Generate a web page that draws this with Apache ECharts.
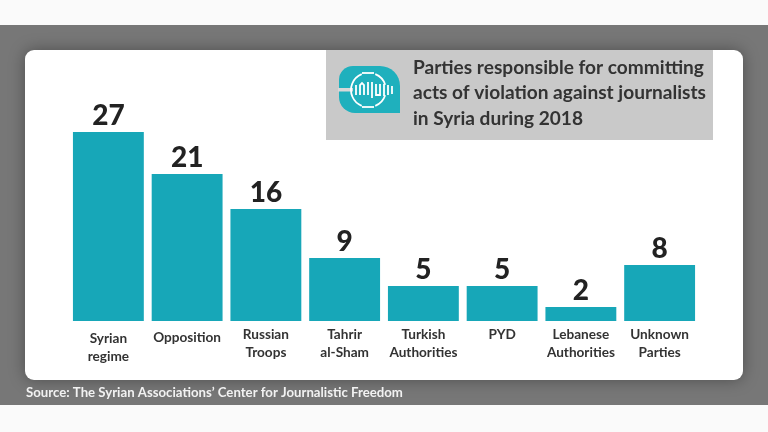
<!DOCTYPE html>
<html>
<head>
<meta charset="utf-8">
<style>html,body{margin:0;padding:0;background:#fafafa}#c{width:768px;height:432px}</style>
<script src="https://cdn.jsdelivr.net/npm/echarts@6/dist/echarts.min.js"></script>
</head>
<body>
<div id="c"></div>
<script>
const categories = ['Syrian\nregime','Opposition','Russian\nTroops','Tahrir\nal-Sham','Turkish\nAuthorities','PYD','Lebanese\nAuthorities','Unknown\nParties'];
const violations = [27,21,16,9,5,5,2,8];
// Extra space above each category label, in pixels
const labelNudge = [4,3,0,0,0,0,0,0];
const titleLines = ['Parties responsible for committing','acts of violation against journalists','in Syria during 2018'];
const sourceText = 'Source: The Syrian Associations\u2019 Center for Journalistic Freedom';

const FONT = 'Lato, "Open Sans", sans-serif';
const TEAL = '#17a7b8';
const chart = echarts.init(document.getElementById('c'), null, {renderer:'canvas'});

// Small emblem: teal badge with a slit on the left and a white headset-and-script mark
const WHITE_STROKE = {stroke:'#fff',lineWidth:1.8,fill:null};
const strokes = [
  [[356,95],[356,85]],
  [[360,95],[360,85],[362,83],[364,85],[364,95]],
  [[368,82],[368,95]],
  [[372,82],[372,98]],
  [[376,84],[376,95],[380,95],[380,84]],
  [[384,84],[384,96]],
  [[388,85],[388,95]],
  [[392,86],[392,94]],
  [[362,73],[374,73]],
  [[362,107],[374,107]]
];
const emblem = [
  {type:'rect', z:3, shape:{x:339,y:66,width:61,height:47,r:[14,20,0,16]}, style:{fill:'#1fb0bd'}},
  {type:'rect', z:3, shape:{x:338,y:88,width:15,height:3.5}, style:{fill:'#d8d8d8'}},
  {type:'arc', z:4, shape:{cx:368,cy:90,r:17,startAngle:Math.PI*0.62,endAngle:Math.PI*1.38,clockwise:true}, style:{stroke:'#fff',lineWidth:1.8,fill:null}},
  {type:'arc', z:4, shape:{cx:369,cy:90,r:17,startAngle:-Math.PI*0.38,endAngle:-Math.PI*0.1,clockwise:true}, style:{stroke:'#fff',lineWidth:1.8,fill:null}},
  {type:'arc', z:4, shape:{cx:369,cy:90,r:17,startAngle:Math.PI*0.1,endAngle:Math.PI*0.38,clockwise:true}, style:{stroke:'#fff',lineWidth:1.8,fill:null}},
  ...strokes.map(p=>({type:'polyline',z:4,shape:{points:p},style:WHITE_STROKE}))
];

chart.setOption({
  animation:false,
  backgroundColor:'#fafafa',
  grid:{left:69,right:69,top:132,bottom:111,containLabel:false},
  xAxis:{
    type:'category',
    data:categories.map((c,i)=>({value:c,textStyle:{padding:[labelNudge[i],0,0,0]}})),
    axisLine:{show:false},axisTick:{show:false},
    axisLabel:{interval:0,margin:5,fontFamily:FONT,fontSize:13.6,fontWeight:700,color:'#333',lineHeight:17.5}
  },
  yAxis:{type:'value',min:0,max:27,show:false,splitLine:{show:false}},
  series:[{
    type:'bar',
    data:violations,
    barCategoryGap:'10%',
    itemStyle:{color:TEAL},
    z:5,
    label:{show:true,position:'top',distance:2,fontFamily:FONT,fontSize:28,fontWeight:900,color:'#222'}
  }],
  graphic:[
    {type:'rect',z:-3,silent:true,shape:{x:0,y:25,width:768,height:380},style:{fill:'#777777'}},
    {type:'rect',z:-2,silent:true,shape:{x:25,y:50,width:718,height:330,r:9},style:{fill:'#fff',shadowBlur:16,shadowColor:'rgba(0,0,0,0.35)'}},
    {type:'rect',z:1,silent:true,shape:{x:326,y:50,width:387,height:90},style:{fill:'#c9c9c9'}},
    ...emblem,
    ...titleLines.map((t,i)=>({type:'text',z:4,silent:true,left:413,top:58+i*25.5,style:{text:t,fontFamily:FONT,fontSize:19.1,fontWeight:700,fill:'#333'}})),
    {type:'text',z:4,silent:true,left:26,top:386,style:{text:sourceText,fontFamily:FONT,fontSize:13.2,fontWeight:700,fill:'#f2f2f2'}}
  ]
});
</script>
</body>
</html>
